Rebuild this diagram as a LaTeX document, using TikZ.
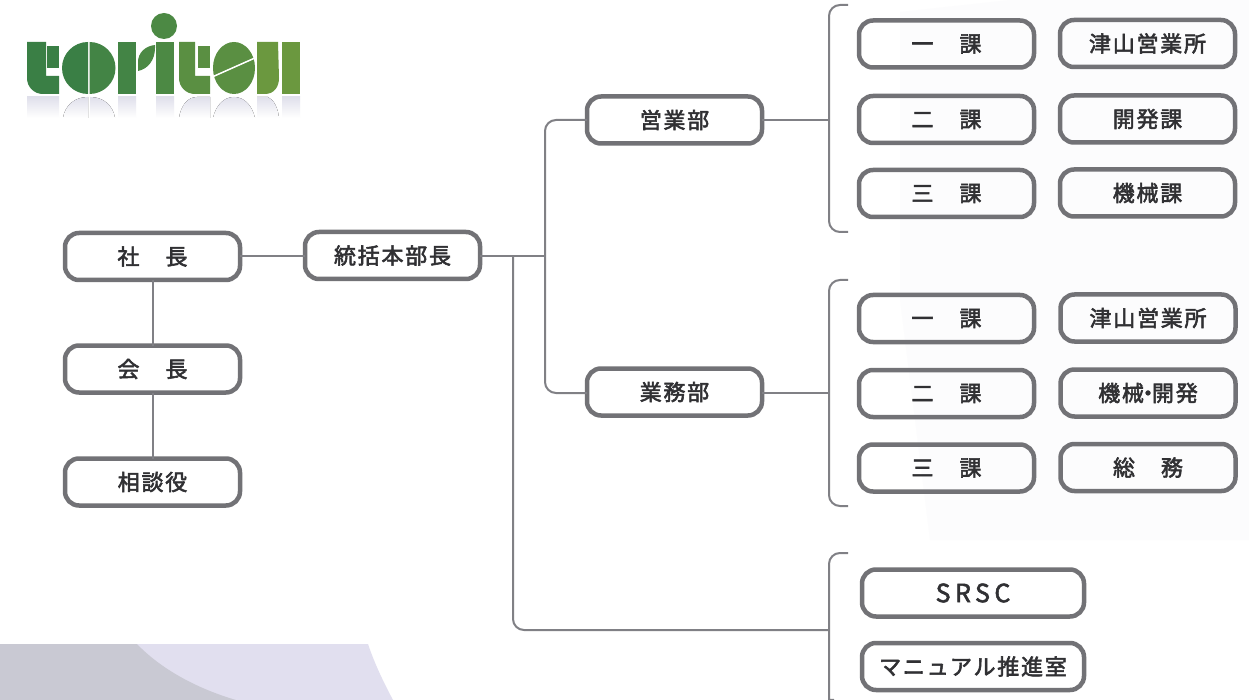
\documentclass[tikz,border=0pt]{standalone}
\usepackage{fontspec}
\newfontfamily\jp[LetterSpace=8]{Noto Sans CJK JP}
\newfontfamily\jpo[LetterSpace=18]{Noto Sans CJK JP}
\definecolor{stroke}{HTML}{727276}
\definecolor{linec}{HTML}{808085}
\definecolor{ink}{HTML}{303033}
\definecolor{paleA}{HTML}{FCFCFD}
\definecolor{bgL}{HTML}{E1DFEF}
\definecolor{bgD}{HTML}{C9C9D3}
\definecolor{gA}{HTML}{3A7F45}
\definecolor{gB}{HTML}{438445}
\definecolor{gC}{HTML}{4C8944}
\definecolor{gD}{HTML}{5A8F42}
\definecolor{gE}{HTML}{6B983F}
\definecolor{refl}{HTML}{E0E0EB}
\tikzset{
  orgbox/.style={draw=stroke,line width=4.5pt,rounded corners=14pt,inner sep=0pt,outer sep=0pt,
    minimum width=175pt,minimum height=47pt,text=ink,font=\jp\fontsize{22}{24}\selectfont,
    execute at begin node={\special{pdf: code 2 Tr 0.55 w}},
    execute at end node={\special{pdf: code 0 Tr 1 w}}},
  conn/.style={draw=linec,line width=2pt},
  brace/.style={conn,rounded corners=11pt},
  mirror/.style={top color=refl,bottom color=white,draw=none}
}
\begin{document}
\begin{tikzpicture}[x=1pt,y=-1pt]
\useasboundingbox (0,0) rectangle (1249,700);
\fill[white] (0,0) rectangle (1249,700);
% pale print background
\fill[paleA] (900,12) -- (1010,0) -- (1249,0) -- (1249,540) -- (930,540) -- (900,300) -- cycle;
\fill[bgL] (0,644) -- (368,644) .. controls (375,665) and (385,685) .. (393,700) -- (0,700) -- cycle;
\fill[bgD] (0,644) -- (137,644) .. controls (160,668) and (195,688) .. (236,700) -- (0,700) -- cycle;
% logo
\fill[gA] (27,42) -- (46,42) -- (46,76) -- (59,76) -- (59,94) -- (43,94) .. controls (34,94) and (27,87) .. (27,78) -- cycle;
\fill[gA] (47,46) rectangle (59,68);
\fill[gA] (88,42) arc[start angle=90,end angle=270,radius=26pt] -- cycle;
\fill[gB] (89.5,42) arc[start angle=90,end angle=-90,radius=26pt] -- cycle;
\fill[gB] (118,42) rectangle (136,94);
\fill[gC] (155,45) .. controls (145,46) and (138,53) .. (138,62) -- (138,71) .. controls (148,69) and (155,60) .. (155,48) -- cycle;
\fill[gC] (156,42) rectangle (174,94);
\fill[gC] (164,26) circle[radius=13pt];
\fill[gD] (179,42) -- (195,42) -- (195,76) -- (210,76) -- (210,94) -- (195,94) .. controls (186,94) and (179,87) .. (179,78) -- cycle;
\fill[gD] (198,46) rectangle (210,68);
\fill[gD] (234,68) ellipse[x radius=21pt,y radius=26pt];
\draw[white,line width=1.5pt] (211,77.5) -- (256,57.5);
\fill[gE] (257,42) -- (278,42) -- (279,78) .. controls (279,87) and (274,94) .. (265,94) -- (257,94) -- cycle;
\fill[gE] (282,42) rectangle (300,94);
% logo reflection
\fill[mirror] (27,97) -- (59,97) -- (59,118) -- (27,118) -- cycle;
\fill[mirror] (63,118) .. controls (65,105) and (75,97) .. (88,97) -- (88,118) -- cycle;
\fill[mirror] (90,118) -- (90,97) .. controls (103,97) and (113,105) .. (115,118) -- cycle;
\fill[mirror] (118,97) rectangle (136,118);
\fill[mirror] (156,97) rectangle (174,118);
\fill[mirror] (179,118) .. controls (181,105) and (188,97) .. (197,97) -- (210,97) -- (210,118) -- cycle;
\fill[mirror] (213,118) .. controls (216,105) and (224,97) .. (234,97) .. controls (244,97) and (252,105) .. (255,118) -- cycle;
\fill[mirror] (257,97) -- (268,97) .. controls (274,100) and (278,108) .. (279,118) -- (257,118) -- cycle;
\fill[mirror] (282,97) rectangle (300,118);
% boxes
\node[orgbox] (shacho) at (152.5,256.5) {社\hspace{26pt}長};
\node[orgbox] (kaicho) at (152.5,369) {会\hspace{26pt}長};
\node[orgbox] (sodan) at (152.5,482) {相談役};
\node[orgbox] (tokatsu) at (392.5,255.5) {統括本部長};
\node[orgbox] (eigyo) at (674.5,120) {営業部};
\node[orgbox] (gyomu) at (674.5,392) {業務部};
\node[orgbox] (a1) at (946.5,44) {一\hspace{26pt}課};
\node[orgbox] (a2) at (946.5,119.5) {二\hspace{26pt}課};
\node[orgbox] (a3) at (946.5,193.5) {三\hspace{26pt}課};
\node[orgbox] (b1) at (1147.5,43.5) {津山営業所};
\node[orgbox] (b2) at (1147.5,119) {開発課};
\node[orgbox] (b3) at (1147.5,193) {機械課};
\node[orgbox] (c1) at (946.5,318.5) {一\hspace{26pt}課};
\node[orgbox] (c2) at (946.5,393.5) {二\hspace{26pt}課};
\node[orgbox] (c3) at (946.5,468) {三\hspace{26pt}課};
\node[orgbox] (d1) at (1148,318) {津山営業所};
\node[orgbox] (d2) at (1148,393) {機械\hspace{-7pt}・\hspace{-7pt}開発};
\node[orgbox] (d3) at (1148,467.5) {総\hspace{26pt}務};
\node[orgbox,minimum width=222pt,font=\jpo\fontsize{25}{28}\selectfont] (srsc) at (973,593) {SRSC};
\node[orgbox,minimum width=222pt] (manual) at (973,666.5) {マニュアル推進室};
% junctions
\coordinate (jm) at (513,256);
\coordinate (jr) at (545,256);
\coordinate (jrT) at (545,120);
\coordinate (jrB) at (545,393);
\coordinate (jl) at (513,630);
\coordinate (br1) at (829,120);
\coordinate (br1t) at (848,5);
\coordinate (br1b) at (848,232);
\coordinate (br2) at (829,393);
\coordinate (br2t) at (848,280);
\coordinate (br2b) at (848,506);
\coordinate (br3) at (829,630);
\coordinate (br3t) at (848,553);
\coordinate (br3b) at (834,700);
% connectors
\draw[conn] (shacho.east) -- (tokatsu.west |- shacho.east);
\draw[conn] (shacho.south) -- (kaicho.north);
\draw[conn] (kaicho.south) -- (sodan.north);
\draw[conn] (tokatsu.east |- jr) -- (jr);
\draw[conn,rounded corners=11pt] (eigyo.west) -- (jrT) -- (jrB) -- (gyomu.west |- jrB);
\draw[conn,rounded corners=11pt] (jm) -- (jl) -- (br3);
\draw[conn] (eigyo.east) -- (br1);
\draw[conn] (gyomu.east |- br2) -- (br2);
\draw[brace] (br1t) -- (br1 |- br1t) -- (br1 |- br1b) -- (br1b);
\draw[brace] (br2t) -- (br2 |- br2t) -- (br2 |- br2b) -- (br2b);
\draw[conn,rounded corners=11pt] (br3t) -- (br3 |- br3t) -- (br3) -- (829,695) .. controls (829,698) and (831,700) .. (br3b);
\end{tikzpicture}
\end{document}
